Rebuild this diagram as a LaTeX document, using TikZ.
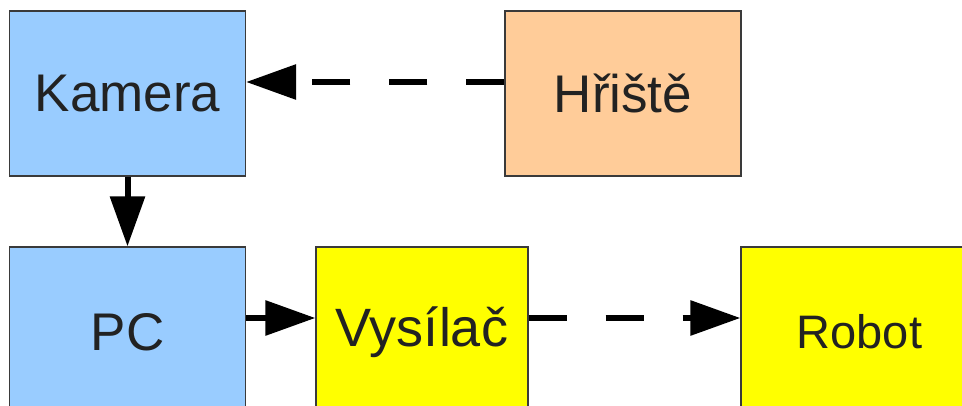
\documentclass[tikz,border=0pt]{standalone}
\usepackage{fontspec}
\setmainfont{Liberation Sans}
\usetikzlibrary{arrows.meta}
\definecolor{camblue}{HTML}{99CCFF}
\definecolor{fieldorange}{HTML}{FFCC99}
\definecolor{radioyellow}{HTML}{FFFF00}
\definecolor{boxline}{HTML}{3A3A3A}
\definecolor{labeltext}{HTML}{222222}
\tikzset{
  block/.style={draw=boxline, line width=1.2pt, rectangle, inner sep=0pt,
    text=labeltext, font=\fontsize{53}{60}\selectfont},
  flow/.style={line width=6pt, line cap=butt,
    -{Triangle[length=50pt,width=34pt]}},
  wireless/.style={flow, dash pattern=on 38pt off 39pt},
}
\begin{document}
\begin{tikzpicture}[x=1pt,y=-1pt]
  \useasboundingbox (0,0) rectangle (962,406);
  \clip (0,0) rectangle (962,406);
  % upper row
  \node[block, fill=camblue, minimum width=236pt, minimum height=165pt]
    (kamera) at (127.5,93.5) {Kamera};
  \node[block, fill=fieldorange, minimum width=236pt, minimum height=165pt]
    (hriste) at (623,93.5) {Hřiště};
  % lower row
  \node[block, fill=camblue, minimum width=236pt, minimum height=170pt]
    (pc) at (127.5,332) {PC};
  \node[block, fill=radioyellow, minimum width=212pt, minimum height=170pt,
    font=\fontsize{54}{60}\selectfont]
    (vysilac) at (422,332) {Vysílač};
  \node[block, fill=radioyellow, minimum width=237pt, minimum height=170pt,
    font=\fontsize{47}{56}\selectfont]
    (robot) at (859.5,332) {Robot};
  % connectors
  \draw[wireless] ([yshift=11.5pt]hriste.west) -- ([yshift=11.5pt]kamera.east);
  \draw[flow] (kamera.south) -- (pc.north);
  \draw[flow] ([yshift=14pt]pc.east) -- ([yshift=14pt]vysilac.west);
  \draw[wireless] ([yshift=14pt]vysilac.east) -- ([yshift=14pt]robot.west);
\end{tikzpicture}
\end{document}
